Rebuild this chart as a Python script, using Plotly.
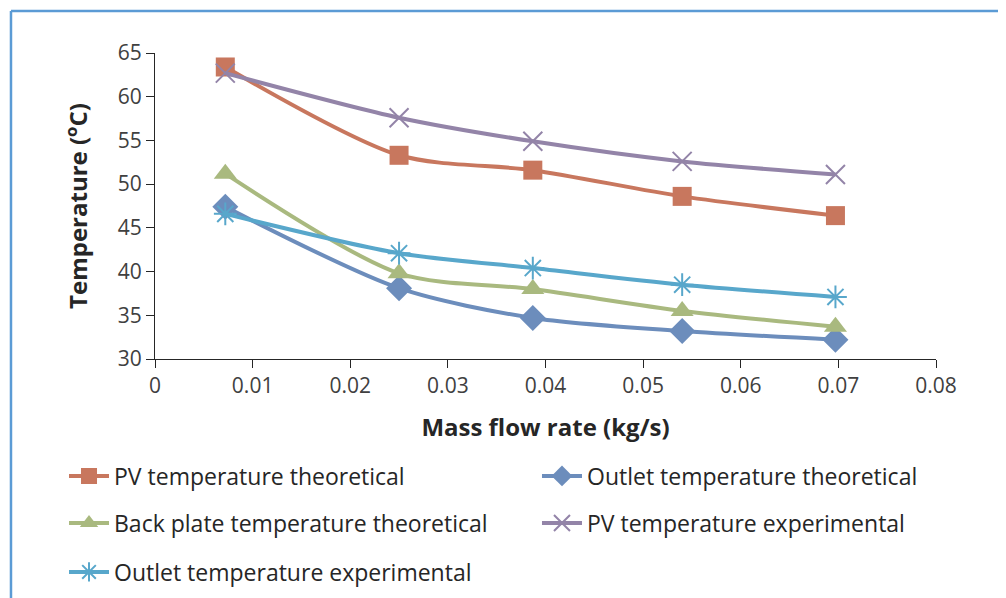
import plotly.graph_objects as go

flow_rate = [0.0072, 0.025, 0.0387, 0.054, 0.0697]
pv_theoretical = [63.4, 53.3, 51.6, 48.6, 46.4]
outlet_theoretical = [47.4, 38.1, 34.7, 33.2, 32.2]
back_plate_theoretical = [51.2, 39.8, 38.0, 35.5, 33.7]
pv_experimental = [62.7, 57.6, 54.9, 52.6, 51.1]
outlet_experimental = [46.6, 42.1, 40.4, 38.5, 37.1]

x_ticks = [0, 0.01, 0.02, 0.03, 0.04, 0.05, 0.06, 0.07, 0.08]
x_tick_text = ["0", "0.01", "0.02", "0.03", "0.04", "0.05", "0.06", "0.07", "0.08"]
y_ticks = [30, 35, 40, 45, 50, 55, 60, 65]

series = [
    ("PV temperature theoretical", pv_theoretical, "#C8775E", "square", 19),
    ("Outlet temperature theoretical", outlet_theoretical, "#6C8DBC", "diamond", 20),
    ("Back plate temperature theoretical", back_plate_theoretical, "#A9B97F", "triangle-up", 20),
    ("PV temperature experimental", pv_experimental, "#9384A8", "x-thin", 19),
    ("Outlet temperature experimental", outlet_experimental, "#58A7CB", "asterisk", 19),
]

# legend slot per series: (x paper, y container)
legend_pos = [(-0.1165, 0.2068), (0.4891, 0.2068), (-0.1165, 0.1271), (0.4891, 0.1271), (-0.1165, 0.0441)]

FONT = "Open Sans"
fig = go.Figure()
legends = {}
for i, (name, vals, color, sym, size) in enumerate(series):
    thin = sym in ("x-thin", "asterisk")
    lg = "legend" if i == 0 else f"legend{i + 1}"
    fig.add_trace(go.Scatter(
        x=flow_rate, y=vals, name=name, mode="lines+markers", legend=lg,
        line=dict(color=color, width=4, shape="spline", smoothing=0.8),
        marker=dict(symbol=sym, size=size, color=color,
                    line=dict(color=color, width=2 if thin else 0)),
    ))
    lx, ly = legend_pos[i]
    legends[lg] = dict(
        x=lx, xanchor="left", y=ly, yanchor="middle", yref="container",
        font=dict(family=FONT, size=23, color="#262626"),
        bgcolor="rgba(0,0,0,0)", itemwidth=40,
    )

fig.update_layout(
    width=998, height=590,
    paper_bgcolor="white", plot_bgcolor="white",
    margin=dict(l=147, r=70, t=45, b=239),
    font=dict(family=FONT, color="#404040"),
    showlegend=True,
    xaxis=dict(
        range=[0, 0.08], tickvals=x_ticks, ticktext=x_tick_text,
        showgrid=False, zeroline=False, showline=True, linecolor="#262626", linewidth=1.3,
        ticks="outside", ticklen=8, tickcolor="#262626",
        tickfont=dict(family=FONT, size=21, color="#404040"),
        title=dict(text="<b>Mass flow rate (kg/s)</b>", font=dict(family=FONT, size=24, color="#262626"), standoff=20),
    ),
    yaxis=dict(
        range=[30, 65], tickvals=y_ticks,
        showgrid=False, zeroline=False, showline=True, linecolor="#262626", linewidth=1.3,
        ticks="outside", ticklen=8, tickcolor="#262626",
        tickfont=dict(family=FONT, size=21, color="#404040"),
        title=dict(text="<b>Temperature (<sup>o</sup>C)</b>", font=dict(family=FONT, size=24, color="#262626"), standoff=23),
    ),
    shapes=[
        dict(type="line", xref="paper", yref="paper", x0=-0.1844, x1=1.2, y0=1.137, y1=1.137,
             line=dict(color="#5B9BD5", width=2.5)),
        dict(type="line", xref="paper", yref="paper", x0=-0.1844, x1=-0.1844, y0=1.137, y1=-0.9,
             line=dict(color="#5B9BD5", width=2.5)),
    ],
    **legends,
)

fig.write_html("out.html")
